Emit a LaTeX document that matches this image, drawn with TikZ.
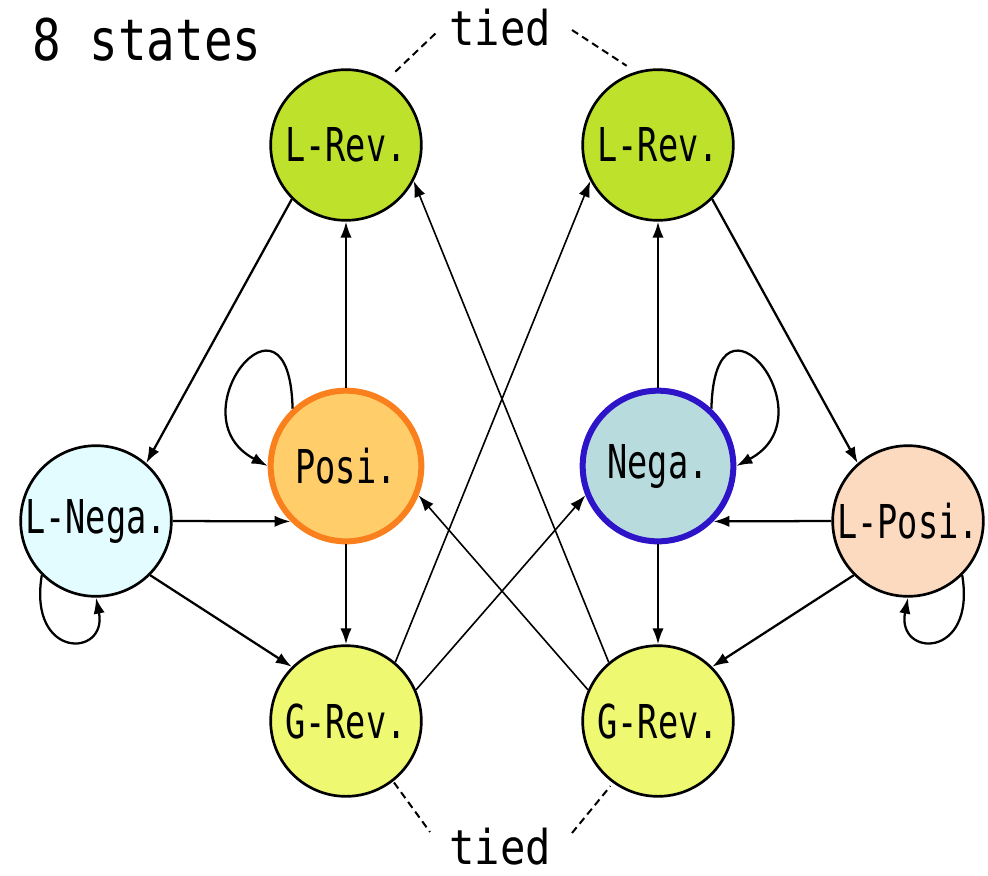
\documentclass[tikz,border=0pt]{standalone}
\usepackage{fontspec}
\usepackage{tikz}
\usetikzlibrary{arrows.meta}
\newfontfamily\labfont[FakeStretch=0.72]{DejaVu Sans Mono}
\newfontfamily\headfont[FakeStretch=0.83]{DejaVu Sans Mono}
\newfontfamily\tiedfont[FakeStretch=0.88]{DejaVu Sans Mono}
\definecolor{lrevcol}{RGB}{190,226,44}
\definecolor{grevcol}{RGB}{238,248,112}
\definecolor{posicol}{RGB}{255,205,105}
\definecolor{posiline}{RGB}{250,128,30}
\definecolor{negacol}{RGB}{184,219,222}
\definecolor{negaline}{RGB}{45,20,200}
\definecolor{lnegcol}{RGB}{226,252,255}
\definecolor{lposcol}{RGB}{252,218,192}

\begin{document}
\begin{tikzpicture}[x=0.75pt,y=0.75pt,yscale=-1,xscale=1,
  state/.style={circle,draw=black,line width=2pt,minimum size=113pt,inner sep=0pt,
    font=\labfont\fontsize{35}{40}\selectfont},
  trans/.style={-{Latex[length=12pt,width=8.5pt]},line width=1.7pt},
  cross/.style={-{Latex[length=12pt,width=8.5pt]},line width=1.2pt},
  tiedline/.style={dash pattern={on 5.5pt off 3.5pt},line width=1.5pt}]
\useasboundingbox (0,0) rectangle (988,875);

%Shape: Circle [states]
\node [state,fill=lrevcol] (lrevL) at (346,145) {L-Rev.};
\node [state,fill=lrevcol] (lrevR) at (658,145) {L-Rev.};
\node [state,fill=posicol,draw=posiline,line width=4.5pt] (posi) at (346,466) {Posi.};
\node [state,fill=negacol,draw=negaline,line width=4.5pt] (nega) at (658,466) {Nega.};
\node [state,fill=lnegcol] (lneg) at (96,521) {L-Nega.};
\node [state,fill=lposcol] (lpos) at (908,521) {L-Posi.};
\node [state,fill=grevcol] (grevL) at (346,721) {G-Rev.};
\node [state,fill=grevcol] (grevR) at (658,721) {G-Rev.};

% Text Node
\node [anchor=base west,inner sep=0pt,font=\headfont\fontsize{43}{50}\selectfont] (title) at (32,60) {8 states};
% Text Node
\node [anchor=base,inner sep=0pt,font=\tiedfont\fontsize{36}{42}\selectfont] (tiedT) at (500,45) {tied};
% Text Node
\node [anchor=base,inner sep=0pt,font=\tiedfont\fontsize{36}{42}\selectfont] (tiedB) at (500,864) {tied};

\coordinate (tTL) at (437,32);
\coordinate (tTR) at (572,30);
\coordinate (tBL) at (430,832);
\coordinate (tBR) at (572,833);

%Shape: tied lines
\draw [tiedline,shorten <=9pt] (lrevL.58) -- (tTL);
\draw [tiedline,shorten >=8pt] (tTR) -- (lrevR.107);
\draw [tiedline,shorten <=1pt] (grevL.-52) -- (tBL);
\draw [tiedline,shorten >=3pt] (tBR) -- (grevR.234);

%Shape: left side
\draw [trans] (lrevL.225) -- (lneg.49);
\draw [trans] (posi) -- (lrevL);
\draw [trans] (lneg.east) -- (posi.225);
\draw [trans] (lneg.-45) -- (grevL.135);
\draw [trans] (posi) -- (grevL);
\draw [trans] (posi.133) .. controls +(-3,-138) and +(-95,-50) .. (posi.180);
\draw [trans] (lneg.225) .. controls +(-14,85) and +(12,60) .. (lneg.270);

%Shape: right side
\draw [trans] (lrevR.-45) -- (lpos.131);
\draw [trans] (nega) -- (lrevR);
\draw [trans] (lpos.west) -- (nega.-45);
\draw [trans] (lpos.225) -- (grevR.45);
\draw [trans] (nega) -- (grevR);
\draw [trans] (nega.47) .. controls +(3,-138) and +(95,-50) .. (nega.0);
\draw [trans] (lpos.-45) .. controls +(14,85) and +(-12,60) .. (lpos.270);

%Shape: crossing lines
\draw [cross] (grevL.50) -- (lrevR.208);
\draw [cross] (grevL.24) -- (nega.202);
\draw [cross] (grevR.130) -- (lrevL.-28);
\draw [cross] (grevR.156) -- (posi.-22);

\end{tikzpicture}
\end{document}
